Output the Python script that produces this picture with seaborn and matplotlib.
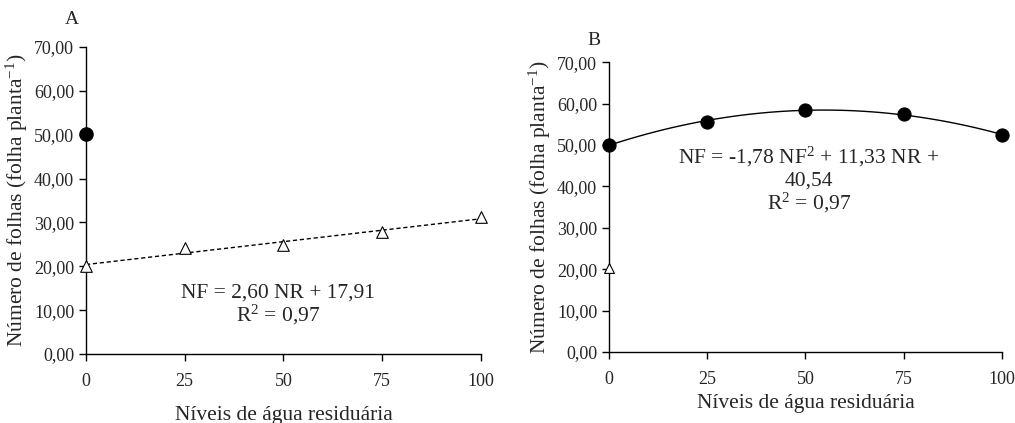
import numpy as np
import pandas as pd
import matplotlib
matplotlib.use("Agg")
import matplotlib.pyplot as plt
from matplotlib.ticker import FuncFormatter
import seaborn as sns

# niveis de agua residuaria (%)
niveis = [0, 25, 50, 75, 100]
# painel A: triangulos (folha planta-1)
folhas_a = [20.0, 24.2, 24.8, 27.9, 31.2]
# painel B: circulos
folhas_b = [50.1, 55.5, 58.5, 57.5, 52.4]
# pontos soltos no nivel 0
ponto_a_0 = [50.2]
ponto_b_0 = [20.3]

eq_a = ["NF = 2,60 NR + 17,91", r"R$^{2}$ = 0,97"]
eq_b = [r"NF = -1,78 NF$^{2}$ + 11,33 NR +", "40,54", r"R$^{2}$ = 0,97"]
ylab = r"Número de folhas (folha planta$^{-1}$)"
xlab = "Níveis de água residuária"

sns.set_style("ticks")
plt.rcParams['font.family'] = ['Liberation Serif', 'DejaVu Serif']
plt.rcParams['mathtext.fontset'] = 'custom'
plt.rcParams['mathtext.rm'] = 'Liberation Serif'
plt.rcParams['mathtext.it'] = 'Liberation Serif'
plt.rcParams['mathtext.default'] = 'regular'

df_a = pd.DataFrame({'nivel': niveis, 'folhas': folhas_a})
df_b = pd.DataFrame({'nivel': niveis, 'folhas': folhas_b})

fig = plt.figure(figsize=(10.15, 4.23), dpi=100)
ax1 = fig.add_axes([0.0847, 0.163, 0.389, 0.726])
ax2 = fig.add_axes([0.600, 0.168, 0.387, 0.685])

fmt = FuncFormatter(lambda v, p: f"{v:.2f}".replace('.', ','))

# painel A
sns.regplot(data=df_a, x='nivel', y='folhas', scatter=False, ci=None, ax=ax1,
            line_kws=dict(color='black', lw=1, ls=(0, (3, 2))))
sns.scatterplot(data=df_a, x='nivel', y='folhas', marker='^', s=70,
                facecolor='white', edgecolor='black', linewidth=0.8, ax=ax1,
                zorder=3, clip_on=False)
ax1.scatter([niveis[0]], ponto_a_0, marker='o', s=90, color='black', zorder=3, clip_on=False)
ax1.text(48.6, 13.9, eq_a[0], ha='center', va='center', fontsize=15.5)
ax1.text(48.6, 8.9, eq_a[1], ha='center', va='center', fontsize=15.5)
ax1.text(-3.5, 76.2, "A", fontsize=14, ha='center', va='center')

# painel B
sns.regplot(data=df_b, x='nivel', y='folhas', order=2, scatter=False, ci=None, ax=ax2,
            line_kws=dict(color='black', lw=1))
sns.scatterplot(data=df_b, x='nivel', y='folhas', marker='o', s=90,
                color='black', edgecolor='black', ax=ax2, zorder=3, clip_on=False)
ax2.scatter([niveis[0]], ponto_b_0, marker='^', s=50, facecolor='white',
            edgecolor='black', linewidth=0.8, zorder=3, clip_on=False)
ax2.text(50.9, 47.2, eq_b[0], ha='center', va='center', fontsize=15.5)
ax2.text(50.9, 41.2, eq_b[1], ha='center', va='center', fontsize=15.5)
ax2.text(50.9, 35.9, eq_b[2], ha='center', va='center', fontsize=15.5)
ax2.text(-3.8, 75.3, "B", fontsize=14, ha='center', va='center')

for ax in (ax1, ax2):
    ax.set_xlim(0, 100)
    ax.set_ylim(0, 70)
    ax.set_xticks(niveis)
    ax.set_yticks(np.arange(0, 71, 10))
    ax.yaxis.set_major_formatter(fmt)
    ax.tick_params(axis='both', direction='out', length=5, width=1, color='black',
                   labelsize=13)
    ax.tick_params(axis='x', pad=9)
    for s in ('top', 'right'):
        ax.spines[s].set_visible(False)
    for s in ('left', 'bottom'):
        ax.spines[s].set_color('black')
        ax.spines[s].set_linewidth(1)
    ax.set_xlabel(xlab, fontsize=15.5)
    ax.set_ylabel(ylab, fontsize=15.5)

ax1.xaxis.labelpad = 11
ax2.xaxis.labelpad = 4
ax1.yaxis.set_label_coords(-0.142, 0.5)
ax2.yaxis.set_label_coords(-0.142, 0.5)

fig.savefig("out.png", dpi=100)
